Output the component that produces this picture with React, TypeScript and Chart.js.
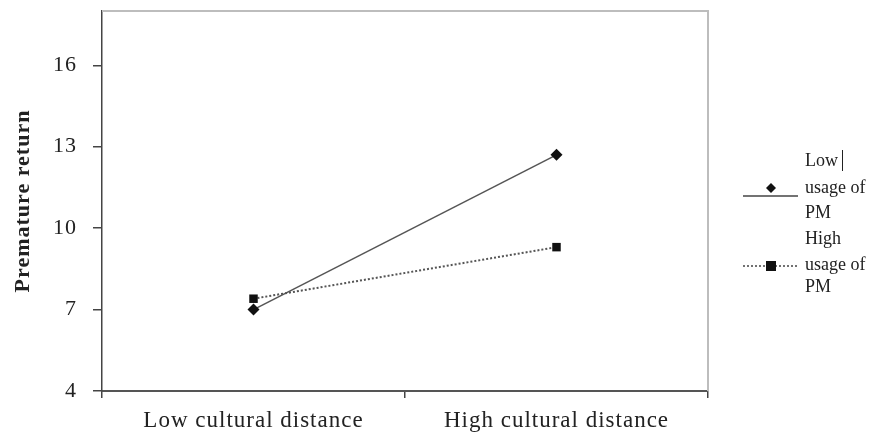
import React, { useEffect, useRef } from "react";
import { Chart, registerables } from "chart.js";

Chart.register(...registerables);

const categories = ["Low cultural distance", "High cultural distance"];
const lowUsage = [7.0, 12.7];
const highUsage = [7.4, 9.3];
const yTicks = [4, 7, 10, 13, 16];
const seriesNames = [["Low", "usage of", "PM"], ["High", "usage of", "PM"]];

const SERIF = "'Liberation Serif', 'Times New Roman', serif";

const spacingPlugin = {
  id: "spacing",
  beforeDraw(chart: any) {
    chart.ctx.letterSpacing = "1px";
  },
  beforeDatasetsDraw(chart: any) {
    chart.ctx.letterSpacing = "0px";
  },
};

const framePlugin = {
  id: "frame",
  afterDraw(chart: any) {
    const { ctx, chartArea } = chart;
    const { left, right, top, bottom } = chartArea;
    ctx.save();
    ctx.strokeStyle = "#bdbdbd";
    ctx.lineWidth = 2;
    ctx.beginPath();
    ctx.moveTo(left, top);
    ctx.lineTo(right, top);
    ctx.lineTo(right, bottom);
    ctx.stroke();
    ctx.restore();
  },
};

const legendPlugin = {
  id: "customLegend",
  afterDraw(chart: any) {
    const { ctx } = chart;
    ctx.save();
    ctx.letterSpacing = "0px";
    ctx.font = `18px ${SERIF}`;
    ctx.fillStyle = "#222";
    ctx.textBaseline = "middle";
    ctx.textAlign = "left";
    const textX = 805;
    const blocks = [
      { lines: [161, 188, 213], symY: 196, markY: 188, dash: [] as number[], style: "diamond" },
      { lines: [239, 265, 287], symY: 266, markY: 266, dash: [2, 2], style: "square" },
    ];
    blocks.forEach((b, i) => {
      seriesNames[i].forEach((t, j) => ctx.fillText(t, textX, b.lines[j]));
      ctx.strokeStyle = "#444";
      ctx.lineWidth = 1.5;
      ctx.setLineDash(b.dash);
      ctx.beginPath();
      ctx.moveTo(743, b.symY);
      ctx.lineTo(798, b.symY);
      ctx.stroke();
      ctx.setLineDash([]);
      ctx.fillStyle = "#111";
      if (b.style === "diamond") {
        ctx.beginPath();
        ctx.moveTo(771, b.markY - 5);
        ctx.lineTo(776, b.markY);
        ctx.lineTo(771, b.markY + 5);
        ctx.lineTo(766, b.markY);
        ctx.closePath();
        ctx.fill();
      } else {
        ctx.fillRect(766, b.markY - 5, 10, 10);
      }
      ctx.fillStyle = "#222";
    });
    // small cursor mark after "Low"
    ctx.strokeStyle = "#222";
    ctx.lineWidth = 1;
    ctx.beginPath();
    ctx.moveTo(842.5, 150);
    ctx.lineTo(842.5, 171);
    ctx.stroke();
    ctx.restore();
  },
};

export default function App() {
  const ref = useRef<HTMLCanvasElement>(null);
  useEffect(() => {
    document.body.style.margin = "0";
    const chart = new Chart(ref.current!, {
      type: "line",
      data: {
        labels: categories,
        datasets: [
          {
            label: seriesNames[0].join(" "),
            data: lowUsage,
            borderColor: "#555",
            borderWidth: 1.5,
            pointStyle: "rectRot",
            pointRadius: 6,
            pointBackgroundColor: "#111",
            pointBorderColor: "#111",
            pointBorderWidth: 0,
          },
          {
            label: seriesNames[1].join(" "),
            data: highUsage,
            borderColor: "#555",
            borderWidth: 2,
            borderDash: [2, 2],
            pointStyle: "rect",
            pointRadius: 6,
            pointBackgroundColor: "#111",
            pointBorderColor: "#111",
            pointBorderWidth: 0,
          },
        ],
      },
      options: {
        animation: false,
        responsive: false,
        layout: { padding: { left: 0, right: 176, top: 11, bottom: 0 } },
        plugins: { legend: { display: false }, tooltip: { enabled: false } },
        scales: {
          x: {
            offset: true,
            grid: { display: true, drawOnChartArea: false, drawTicks: true, tickLength: 7, offset: true, color: "#444", lineWidth: 1.5 },
            border: { display: true, color: "#555", width: 2 },
            ticks: { font: { family: SERIF, size: 23 }, color: "#222", padding: 9, maxRotation: 0 },
            afterFit(scale: any) {
              scale.height = 41;
              scale.paddingLeft = 0;
              scale.paddingRight = 0;
            },
          },
          y: {
            min: 4,
            max: 18,
            ticks: { stepSize: 3, font: { family: SERIF, size: 22 }, color: "#222", padding: 16 },
            afterBuildTicks(scale: any) {
              scale.ticks = yTicks.map((v) => ({ value: v }));
            },
            grid: { display: true, drawOnChartArea: false, drawTicks: true, tickLength: 9, color: "#444", lineWidth: 1.5 },
            border: { display: true, color: "#444", width: 1.5 },
            title: {
              display: true,
              text: "Premature return",
              font: { family: SERIF, size: 22, weight: "bold" },
              color: "#222",
              padding: { top: 10, bottom: 0 },
            },
            afterFit(scale: any) {
              scale.width = 102;
              scale.paddingTop = 0;
              scale.paddingBottom = 0;
            },
          },
        },
      },
      plugins: [spacingPlugin, framePlugin, legendPlugin],
    });
    return () => chart.destroy();
  }, []);
  return (
    <div style={{ width: 884, height: 432 }}>
      <canvas ref={ref} width={884} height={432} style={{ width: 884, height: 432, display: "block" }} />
    </div>
  );
}
